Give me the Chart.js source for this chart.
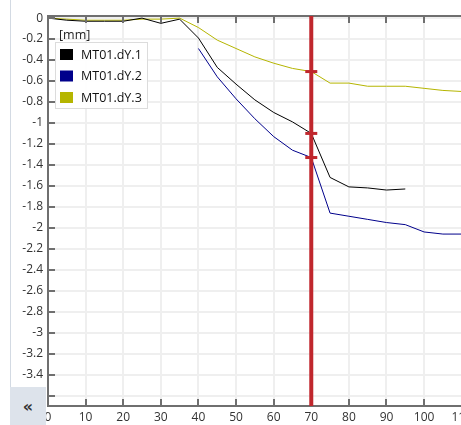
<!DOCTYPE html>
<html>
<head>
<meta charset="utf-8">
<script src="https://cdn.jsdelivr.net/npm/chart.js@4.4.1/dist/chart.umd.min.js"></script>
<style>
	body { margin: 0; background: #fff; overflow: hidden; }
	#wrap { position: relative; width: 461px; height: 425px; overflow: hidden; background: #fff; }
	#box { position: absolute; left: 0; top: 0; width: 476px; height: 425px; }
	#side { position: absolute; left: 10px; top: 0; width: 1px; height: 387px; background: #d3dae3; }
	#collapse {
		position: absolute; left: 10px; top: 387px; width: 36px; height: 38px;
		background: #dde3eb; color: #333; font: bold 16px "DejaVu Sans", sans-serif;
		text-align: center; line-height: 40px;
	}
</style>
</head>
<body>
<div id="wrap">
	<div id="box"><canvas id="myChart"></canvas></div>
	<div id="side"></div>
	<div id="collapse">«</div>
</div>
<script>
// Data block
const xValues = [0, 5, 10, 15, 20, 25, 30, 35, 40, 45, 50, 55, 60, 65, 70, 75, 80, 85, 90, 95, 100, 105, 110];
const dy1 = [0, -0.02, -0.03, -0.03, -0.03, 0.0, -0.05, -0.01, -0.19, -0.47, -0.63, -0.78, -0.9, -0.99, -1.1, -1.52, -1.61, -1.62, -1.64, -1.63, null, null, null];
const dy2 = [null, null, null, null, null, null, null, null, -0.29, -0.56, -0.77, -0.96, -1.13, -1.26, -1.33, -1.86, -1.89, -1.92, -1.95, -1.97, -2.04, -2.06, -2.06];
const dy3 = [0, -0.01, -0.02, -0.02, -0.02, -0.01, -0.01, 0.0, -0.09, -0.21, -0.29, -0.37, -0.43, -0.48, -0.51, -0.62, -0.62, -0.65, -0.65, -0.65, -0.67, -0.69, -0.7];
const seriesNames = ["MT01.dY.1", "MT01.dY.2", "MT01.dY.3"];
const seriesColors = ["#000000", "#00008b", "#b5b500"];
const unitLabel = "[mm]";
const cursorX = 70;

const FONT = "'Open Sans', 'Noto Sans', sans-serif";

function toPoints(arr) {
	return xValues.map((x, i) => ({ x: x, y: arr[i] }));
}

// draws inward ticks, top border, cursor and legend
const overlayPlugin = {
	id: "overlay",
	afterDatasetsDraw(chart) {
		const ctx = chart.ctx;
		const a = chart.chartArea;
		const xs = chart.scales.x;
		const ys = chart.scales.y;
		ctx.save();
		ctx.strokeStyle = "#6f6f6f";
		ctx.lineWidth = 2;
		// top border
		ctx.beginPath();
		ctx.moveTo(a.left, a.top);
		ctx.lineTo(a.right + 5, a.top);
		ctx.stroke();
		// x ticks (top and bottom)
		xs.ticks.forEach((t) => {
			const px = Math.round(xs.getPixelForValue(t.value));
			ctx.beginPath();
			ctx.moveTo(px, a.top);
			ctx.lineTo(px, a.top + 7);
			ctx.moveTo(px, a.bottom);
			ctx.lineTo(px, a.bottom - 7);
			ctx.stroke();
		});
		// y ticks
		ys.ticks.forEach((t) => {
			const py = Math.round(ys.getPixelForValue(t.value));
			ctx.beginPath();
			ctx.moveTo(a.left, py);
			ctx.lineTo(a.left + 7, py);
			ctx.stroke();
		});

		// cursor
		const cx = xs.getPixelForValue(cursorX);
		ctx.strokeStyle = "#c0272d";
		ctx.lineWidth = 4;
		ctx.beginPath();
		ctx.moveTo(cx, a.top);
		ctx.lineTo(cx, a.bottom);
		ctx.stroke();
		const idx = xValues.indexOf(cursorX);
		ctx.fillStyle = "#c0272d";
		[dy1, dy2, dy3].forEach((arr) => {
			if (arr[idx] === null) return;
			const py = ys.getPixelForValue(arr[idx]);
			ctx.fillRect(cx - 6, py - 1.5, 12, 3);
		});

		// legend
		ctx.font = "12.5px " + FONT;
		ctx.textBaseline = "middle";
		ctx.fillStyle = "#222";
		ctx.fillText(unitLabel, 59, 35);
		ctx.fillStyle = "rgba(255,255,255,0.9)";
		ctx.fillRect(55, 42, 92, 66);
		ctx.strokeStyle = "#dcdcdc";
		ctx.lineWidth = 1;
		ctx.strokeRect(55.5, 42.5, 92, 66);
		chart.data.datasets.forEach((ds, i) => {
			const cy = 54 + i * 21.5;
			ctx.fillStyle = ds.borderColor;
			ctx.fillRect(60, cy - 5, 13, 11);
			ctx.fillStyle = "#111";
			ctx.fillText(ds.label, 81, cy + 1);
		});
		ctx.restore();
	},
};

function mainChart() {
	const data = {
		datasets: [dy1, dy2, dy3].map((arr, i) => ({
			label: seriesNames[i],
			data: toPoints(arr),
			borderColor: seriesColors[i],
			backgroundColor: seriesColors[i],
			borderWidth: 1,
			pointRadius: 0,
			tension: 0,
			spanGaps: false,
		})),
	};

	const options = {
		responsive: true,
		maintainAspectRatio: false,
		animation: false,
		layout: {
			padding: { top: 16, left: 0, right: 0, bottom: 0 },
		},
		plugins: {
			legend: { display: false },
			tooltip: { enabled: false },
		},
		scales: {
			x: {
				type: "linear",
				min: 0,
				max: 112.7,
				afterFit: (scale) => {
					scale.height = 19;
				},
				border: { color: "#6f6f6f", width: 2 },
				grid: { color: "#efefef", lineWidth: 2, drawTicks: false },
				ticks: {
					stepSize: 10,
					includeBounds: false,
					maxRotation: 0,
					padding: 4,
					color: "#333",
					font: { family: FONT, size: 12 },
				},
			},
			y: {
				min: -3.7,
				max: 0.02,
				afterFit: (scale) => {
					scale.width = 48;
				},
				border: { color: "#6f6f6f", width: 2 },
				grid: { color: "#efefef", lineWidth: 2, drawTicks: false },
				ticks: {
					stepSize: 0.2,
					includeBounds: false,
					padding: 5,
					color: "#333",
					font: { family: FONT, size: 12 },
					callback: function (value) {
						return (Math.round(value * 10) / 10).toString();
					},
				},
			},
		},
	};

	const config = {
		type: "line",
		data: data,
		options: options,
		plugins: [overlayPlugin],
	};

	const myChart = new Chart(document.getElementById("myChart"), config);
}

mainChart();
</script>
</body>
</html>
